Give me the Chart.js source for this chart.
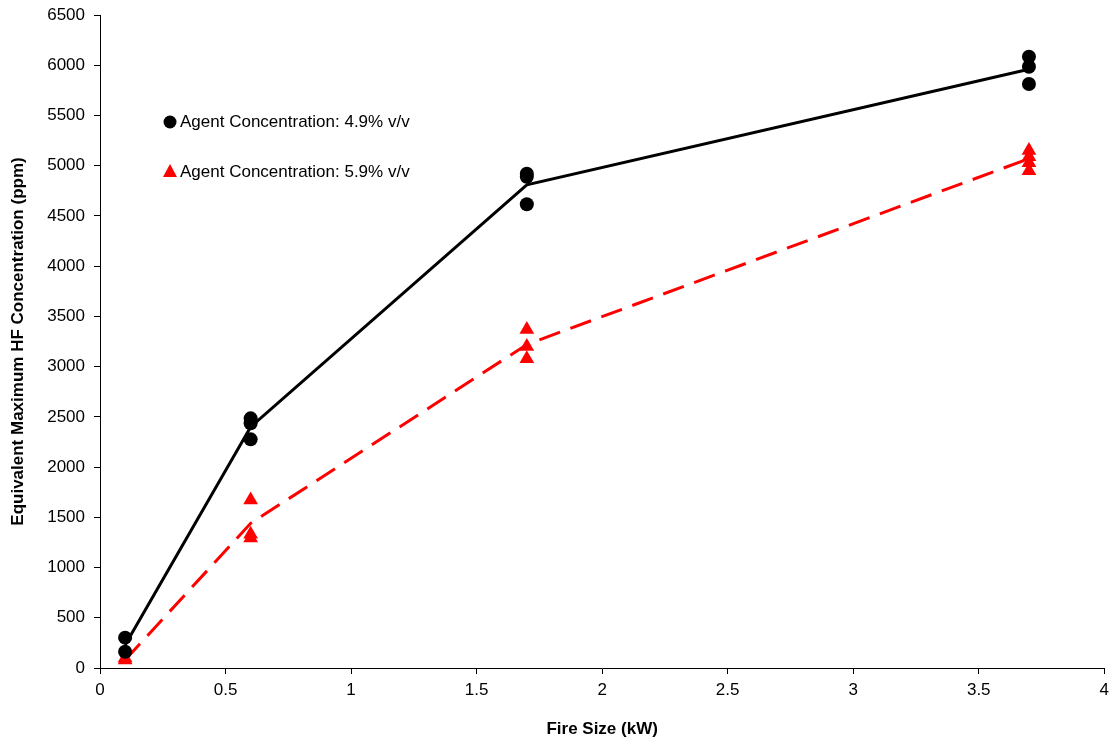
<!DOCTYPE html>
<html><head><meta charset="utf-8">
<script src="https://cdn.jsdelivr.net/npm/chart.js@4/dist/chart.umd.min.js"></script>
<style>html,body{margin:0;padding:0;background:#fff}#wrap{width:1115px;height:744px}</style>
</head><body><div id="wrap"><canvas id="c" width="1115" height="744"></canvas></div>
<script>
const fireSizes = [0.1, 0.6, 1.7, 3.7];
const black49Points = [[302, 162], [2485, 2436, 2276], [4920, 4890, 4616], [6085, 5985, 5813]];
const red59Points = [[100, 80], [1672, 1331, 1294], [3370, 3200, 3078], [5150, 5090, 5030, 4950]];
const black49Line = [230, 2400, 4810, 5960];
const red59Line = [80, 1440, 3220, 5070];
const legendLabels = ['Agent Concentration: 4.9% v/v', 'Agent Concentration: 5.9% v/v'];
const xTitle = 'Fire Size (kW)';
const yTitle = 'Equivalent Maximum HF Concentration (ppm)';

const toPts = (groups) => groups.flatMap((g, i) => g.map(v => ({x: fireSizes[i], y: v})));
const toLine = (vals) => vals.map((v, i) => ({x: fireSizes[i], y: v}));
const FONT = '"Liberation Sans", Arial, sans-serif';
const fmt = (v) => String(Number(Number(v).toFixed(2)));

const legendPlugin = {
  id: 'customLegend',
  afterDraw(chart) {
    const ctx = chart.ctx;
    ctx.save();
    ctx.font = '17px ' + FONT;
    ctx.fillStyle = '#000';
    ctx.textBaseline = 'middle';
    ctx.beginPath(); ctx.arc(170, 122, 6.5, 0, Math.PI * 2); ctx.fill();
    ctx.fillText(legendLabels[0], 180, 122);
    ctx.fillStyle = '#ff0000';
    ctx.beginPath(); ctx.moveTo(170, 164); ctx.lineTo(177, 177); ctx.lineTo(163, 177); ctx.closePath(); ctx.fill();
    ctx.fillStyle = '#000';
    ctx.fillText(legendLabels[1], 180, 172);
    ctx.restore();
  }
};

new Chart(document.getElementById('c'), {
  type: 'scatter',
  data: {
    datasets: [
      {data: toLine(black49Line), showLine: true, borderColor: '#000', borderWidth: 3, pointRadius: 0, order: 3},
      {data: toLine(red59Line), showLine: true, borderColor: '#ff0000', borderWidth: 3, borderDash: [22, 11], pointRadius: 0, order: 3},
      {data: toPts(black49Points), pointStyle: 'circle', pointRadius: 7, backgroundColor: '#000', borderColor: '#000', borderWidth: 0, order: 1},
      {data: toPts(red59Points), pointStyle: 'triangle', pointRadius: 8.5, backgroundColor: '#ff0000', borderColor: '#ff0000', borderWidth: 0, order: 1}
    ]
  },
  options: {
    responsive: false,
    animation: false,
    layout: {padding: {top: 15, right: 4, left: 0, bottom: 0}},
    plugins: {legend: {display: false}, tooltip: {enabled: false}},
    scales: {
      x: {
        type: 'linear', min: 0, max: 4,
        ticks: {stepSize: 0.5, color: '#000', font: {size: 17, family: FONT}, padding: 6, maxRotation: 0, callback: fmt},
        grid: {drawOnChartArea: false, drawTicks: true, tickLength: 6, color: '#000'},
        border: {color: '#000', width: 1},
        title: {display: true, text: xTitle, color: '#000', font: {size: 17, weight: 'bold', family: FONT}, padding: {top: 0, bottom: 4}},
        afterFit(s) { s.height = 76; }
      },
      y: {
        type: 'linear', min: 0, max: 6500,
        ticks: {stepSize: 500, color: '#000', font: {size: 17, family: FONT}, padding: 9, callback: fmt},
        grid: {drawOnChartArea: false, drawTicks: true, tickLength: 6, color: '#000'},
        border: {color: '#000', width: 1},
        title: {display: true, text: yTitle, color: '#000', font: {size: 17, weight: 'bold', family: FONT}, padding: {top: 8, bottom: 0}},
        afterFit(s) { s.width = 100; s.paddingTop = 0; s.paddingBottom = 0; }
      }
    }
  },
  plugins: [legendPlugin]
});
</script></body></html>
